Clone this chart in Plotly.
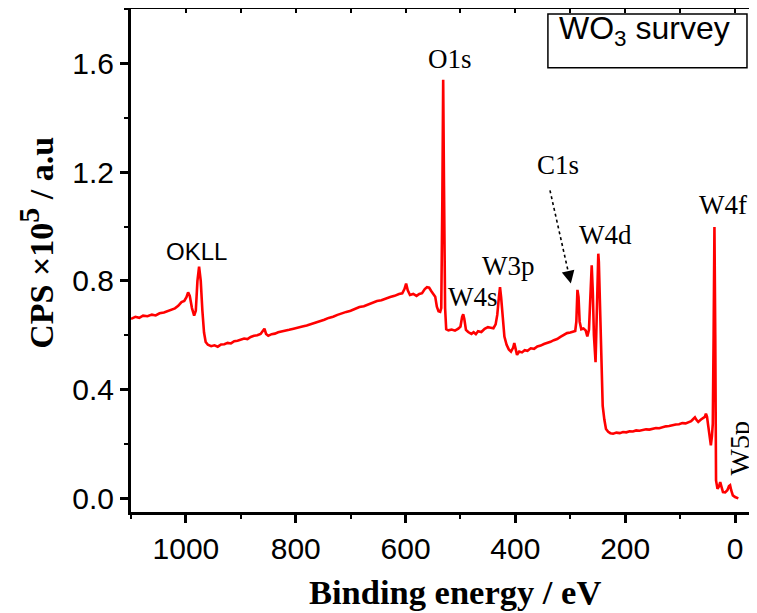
import plotly.graph_objects as go

# Binding energy (eV) and counts (x1e5)
binding_energy = [
    1100, 1092, 1085, 1078, 1070, 1062, 1055, 1048, 1040, 1033, 1026, 1020, 1014, 1008, 1003,
    999, 996, 993, 989, 985, 982, 979, 976, 973, 970, 967, 964, 960, 954, 948, 942, 936, 930,
    924, 918, 912, 906, 900, 894, 888, 882, 876, 870, 864, 860, 857, 854, 850, 844, 838, 832,
    826, 820, 812, 804, 796, 788, 780, 772, 764, 756, 748, 740, 732, 724, 716, 708, 700, 692,
    684, 676, 668, 660, 652, 644, 636, 628, 620, 612, 606, 602, 599, 596, 592, 586, 580, 575,
    570, 565, 561, 557, 553, 549, 546, 543, 540, 537, 535, 533, 531.5, 530, 528, 526, 522, 516,
    510, 504, 500, 497, 495, 493, 490, 486, 480, 476, 472, 468, 462, 456, 450, 445, 440, 436,
    433, 430, 428, 426, 423, 420, 416, 412, 408, 404, 402, 400, 397, 393, 388, 383, 378, 372,
    366, 360, 354, 348, 342, 336, 330, 324, 318, 312, 306, 300, 295, 291, 289, 287, 285, 283,
    280, 276, 272, 269, 266, 263, 261, 259, 257, 254, 252, 250, 249, 248, 246, 243, 241, 238,
    235, 231, 227, 222, 216, 210, 204, 198, 192, 186, 180, 174, 168, 162, 156, 150, 144, 138,
    132, 126, 120, 114, 108, 102, 96, 90, 84, 80, 76, 73, 70, 67, 62, 58, 55, 53, 51, 48.5,
    46, 44, 42, 40.5, 39, 37.5, 36, 34.6, 32, 29, 27, 25, 22, 18, 14, 11, 9, 7, 4, 0, -6,
]
cps = [
    0.660, 0.668, 0.664, 0.672, 0.670, 0.676, 0.673, 0.681, 0.684, 0.690, 0.695, 0.699, 0.708, 0.722, 0.726,
    0.740, 0.758, 0.745, 0.700, 0.672, 0.690, 0.800, 0.852, 0.800, 0.690, 0.610, 0.575, 0.565, 0.560, 0.563, 0.558, 0.566, 0.567,
    0.572, 0.570, 0.578, 0.580, 0.583, 0.588, 0.586, 0.594, 0.598, 0.600, 0.605, 0.615, 0.624, 0.605, 0.598, 0.604, 0.606, 0.611,
    0.613, 0.617, 0.620, 0.624, 0.627, 0.632, 0.636, 0.641, 0.646, 0.652, 0.657, 0.664, 0.668, 0.675, 0.681, 0.686, 0.690, 0.698,
    0.704, 0.707, 0.713, 0.720, 0.726, 0.729, 0.736, 0.741, 0.745, 0.752, 0.754, 0.770, 0.790, 0.765, 0.748, 0.752, 0.745, 0.752,
    0.755, 0.770, 0.777, 0.775, 0.762, 0.752, 0.742, 0.705, 0.688, 0.686, 0.700, 1.100, 1.540, 1.150, 0.700, 0.622, 0.618, 0.621,
    0.617, 0.624, 0.632, 0.668, 0.677, 0.660, 0.620, 0.612, 0.605, 0.611, 0.604, 0.615, 0.612, 0.624, 0.630, 0.628, 0.626, 0.640,
    0.675, 0.740, 0.777, 0.740, 0.650, 0.595, 0.565, 0.548, 0.540, 0.555, 0.571, 0.548, 0.528, 0.540, 0.537, 0.545, 0.543, 0.552,
    0.550, 0.559, 0.562, 0.568, 0.571, 0.576, 0.582, 0.586, 0.594, 0.600, 0.608, 0.610, 0.614, 0.616, 0.650, 0.767, 0.740, 0.650,
    0.622, 0.625, 0.618, 0.596, 0.620, 0.780, 0.857, 0.760, 0.600, 0.501, 0.640, 0.870, 0.900, 0.870, 0.700, 0.434, 0.340, 0.290,
    0.255, 0.245, 0.240, 0.238, 0.242, 0.240, 0.244, 0.243, 0.247, 0.246, 0.250, 0.249, 0.252, 0.254, 0.253, 0.257, 0.259, 0.258,
    0.262, 0.265, 0.266, 0.270, 0.272, 0.273, 0.277, 0.276, 0.282, 0.284, 0.292, 0.298, 0.288, 0.281, 0.290, 0.296, 0.300, 0.312, 0.300, 0.262,
    0.210, 0.195, 0.230, 0.275, 0.600, 0.998, 0.600, 0.066, 0.035, 0.045, 0.060, 0.040, 0.023, 0.022, 0.030, 0.045, 0.048, 0.030, 0.011, 0.005, 0.000,
]

# Peak labels: text, x (eV), y (x1e5)
peak_labels = ["O1s", "W4s", "W3p", "C1s", "W4d", "W4f"]
peak_label_x = [518.2, 476.3, 412.6, 322.4, 236.8, 22.8]
peak_label_y = [1.615, 0.739, 0.855, 1.225, 0.969, 1.079]

x_ticks = [0, 200, 400, 600, 800, 1000]
y_ticks = [0.0, 0.4, 0.8, 1.2, 1.6]

SERIF = "Liberation Serif, Times New Roman, serif"
SANS = "Liberation Sans, Arial, sans-serif"

fig = go.Figure()
fig.add_trace(go.Scatter(
    x=binding_energy, y=cps, mode="lines",
    line=dict(color="#ff0000", width=2.6),
    showlegend=False, hoverinfo="skip",
))
fig.add_trace(go.Scatter(x=[binding_energy[0]], y=[cps[0]], xaxis="x2", mode="markers",
                         marker=dict(opacity=0), showlegend=False, hoverinfo="skip"))

annotations = []
for t, ax_, ay_ in zip(peak_labels, peak_label_x, peak_label_y):
    annotations.append(dict(x=ax_, y=ay_, xref="x", yref="y", text=t, showarrow=False,
                            font=dict(family=SERIF, size=27, color="black"),
                            xanchor="center", yanchor="middle"))
annotations.append(dict(x=980.9, y=0.907, xref="x", yref="y", text="OKLL", showarrow=False,
                        font=dict(family=SANS, size=24, color="black"),
                        xanchor="center", yanchor="middle"))
annotations.append(dict(x=-8.2, y=0.182, xref="x", yref="y", text="W5p", showarrow=False,
                        textangle=-90,
                        font=dict(family=SERIF, size=28, color="black"),
                        xanchor="center", yanchor="middle"))
# C1s arrow head
annotations.append(dict(x=299, y=0.79, xref="x", yref="y", text="", showarrow=True,
                        ax=-2.6, ay=-11.7, arrowhead=2, arrowsize=1.6, arrowwidth=1.6,
                        arrowcolor="black"))
# Box title
annotations.append(dict(x=0.82, y=0.958, xref="paper", yref="paper",
                        text="WO<sub>3</sub> survey", showarrow=False,
                        font=dict(family=SANS, size=32, color="black"),
                        xanchor="center", yanchor="middle"))
# Axis titles
annotations.append(dict(x=0.5176, y=-0.159, xref="paper", yref="paper",
                        text="<b>Binding energy / eV</b>", showarrow=False,
                        font=dict(family=SERIF, size=34.5, color="black"),
                        xanchor="center", yanchor="middle"))
annotations.append(dict(x=-0.152, y=0.535, xref="paper", yref="paper",
                        text="<b>CPS ×10<sup><span style='font-size:30px'>5</span></sup> / a.u</b>",
                        showarrow=False, textangle=-90,
                        font=dict(family=SERIF, size=34, color="black"),
                        xanchor="center", yanchor="middle"))

shapes = [
    dict(type="line", xref="x", yref="y", x0=337, y0=1.133, x1=303.7, y1=0.833,
         line=dict(color="black", width=1.6, dash="dot")),
    dict(type="rect", xref="paper", yref="paper", x0=0.666, x1=0.984, y0=0.883, y1=0.990,
         line=dict(color="black", width=1.5), fillcolor="rgba(0,0,0,0)"),
]

axis_common = dict(showgrid=False, zeroline=False, showline=True, linecolor="black",
                   linewidth=3, ticks="outside", tickcolor="black", tickwidth=2.5,
                   ticklen=8, tickfont=dict(family=SANS, size=30, color="black"),
                   automargin=False)

# The page body has an 8px margin, so the figure is 8px smaller and its margins 8px tighter
fig.update_layout(
    width=749, height=605,
    margin=dict(l=123, r=0, t=1, b=101, autoexpand=False),
    paper_bgcolor="white", plot_bgcolor="white",
    xaxis=dict(range=[1100, -40], tickvals=x_ticks,
               minor=dict(dtick=100, ticks="outside", ticklen=4, tickwidth=2, tickcolor="black"),
               **axis_common),
    xaxis2=dict(range=[1100, -40], overlaying="x", side="top", anchor="y", matches="x",
                showline=True, linecolor="black", linewidth=3, ticks="inside", ticklen=4,
                tickwidth=1.5, tickcolor="black", dtick=100, tick0=0, showticklabels=False,
                showgrid=False, zeroline=False, automargin=False),
    yaxis=dict(range=[-0.05, 1.8], tickvals=y_ticks, tickformat=".1f",
               minor=dict(dtick=0.2, ticks="outside", ticklen=4, tickwidth=2, tickcolor="black"),
               **axis_common),
    annotations=annotations,
    shapes=shapes,
)

fig.write_html("out.html")
